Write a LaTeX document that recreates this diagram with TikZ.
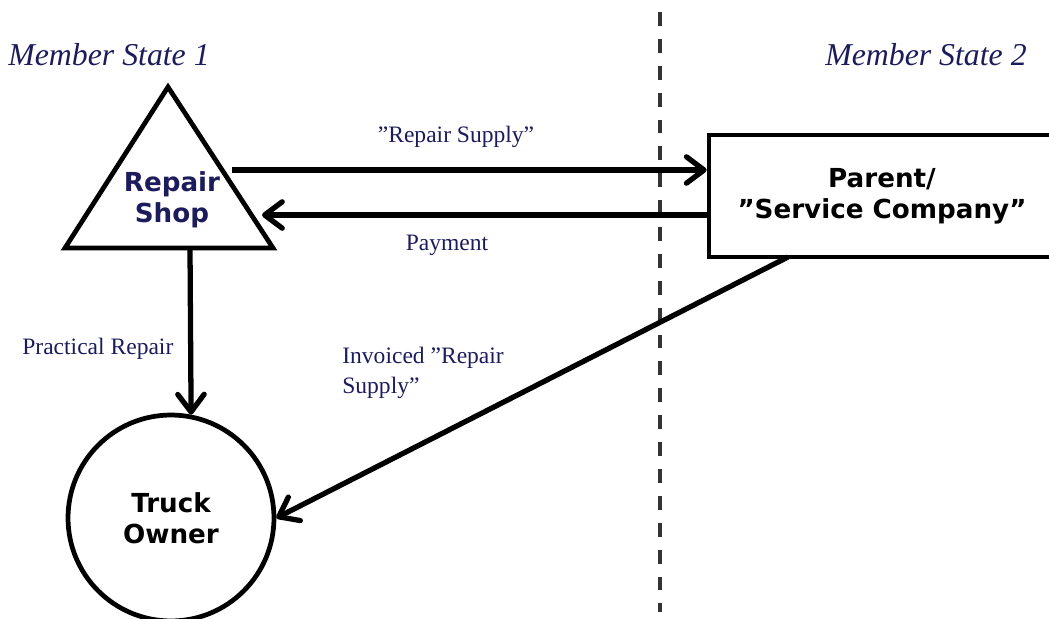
\documentclass[tikz,border=0pt]{standalone}
\usepackage{fontspec}
\setmainfont{Liberation Serif}
\newfontfamily\vsans{DejaVu Sans}
\usetikzlibrary{arrows.meta}
\definecolor{navy}{RGB}{28,28,92}
\definecolor{dashgray}{RGB}{51,51,51}
\begin{document}
\begin{tikzpicture}[x=0.02cm,y=-0.02cm,
  shapeline/.style={line width=2.7pt, line join=miter},
  flow/.style={line width=3.0pt, -{Straight Barb[length=10pt,width=15pt,round]}},
  lbl/.style={text=navy, inner sep=0pt, font=\fontsize{13.4}{17}\selectfont, align=left},
  statelbl/.style={text=navy, inner sep=0pt, font=\fontsize{18.1}{21}\selectfont\itshape},
  boldlbl/.style={font=\vsans\bfseries\fontsize{14.9}{17.6}\selectfont, align=center},
  border/.style={dashgray, line width=1.9pt, dash pattern=on 7.9pt off 7.4pt}
]
\useasboundingbox (0,0) rectangle (1049,619);
\clip (0,0) rectangle (1049,619);

% border line between member states
\coordinate (btop) at (660,12);
\coordinate (bbot) at (660,612);
\draw[border] (btop) -- (bbot);

% state captions
\node[statelbl, anchor=west] (ms1) at (8,55) {Member State 1};
\node[statelbl, anchor=east] (ms2) at (1027,55) {Member State 2};

% repair shop triangle
\coordinate (apex) at (168,87);
\coordinate (bl) at (65,248);
\coordinate (br) at (273,248);
\draw[shapeline] (apex) -- (bl) -- (br) -- cycle;
\node[boldlbl, text=navy] (shop) at (172,200) {Repair\\Shop};

% parent / service company
\node[draw, shapeline, fill=white, minimum width=6.92cm, minimum height=2.44cm, inner sep=0pt, boldlbl, text=black] (parent) at (882,196) {Parent/\\”Service Company”};

% truck owner
\node[draw, circle, shapeline, minimum size=4.12cm, inner sep=0pt, boldlbl, text=black] (owner) at (171,518) {Truck\\Owner};

% connectors
\coordinate (rsstart) at (232,170);
\coordinate (payend) at (262,215);
\coordinate (prstart) at (190,248);
\coordinate (invstart) at (788,257);
\draw[flow] (rsstart) -- (parent.west |- rsstart);
\draw[flow] (parent.west |- payend) -- (payend);
\draw[flow] (prstart) -- (owner.79);
\draw[flow] (invstart) -- (owner.east);

% connector labels
\node[lbl] (lrs) at (456,137) {”Repair Supply”};
\node[lbl] (lpay) at (447,245) {Payment};
\node[lbl, anchor=west] (lpr) at (22,349) {Practical Repair};
\node[lbl, anchor=west] (linv) at (342,373) {Invoiced ”Repair\\Supply”};
\end{tikzpicture}
\end{document}
